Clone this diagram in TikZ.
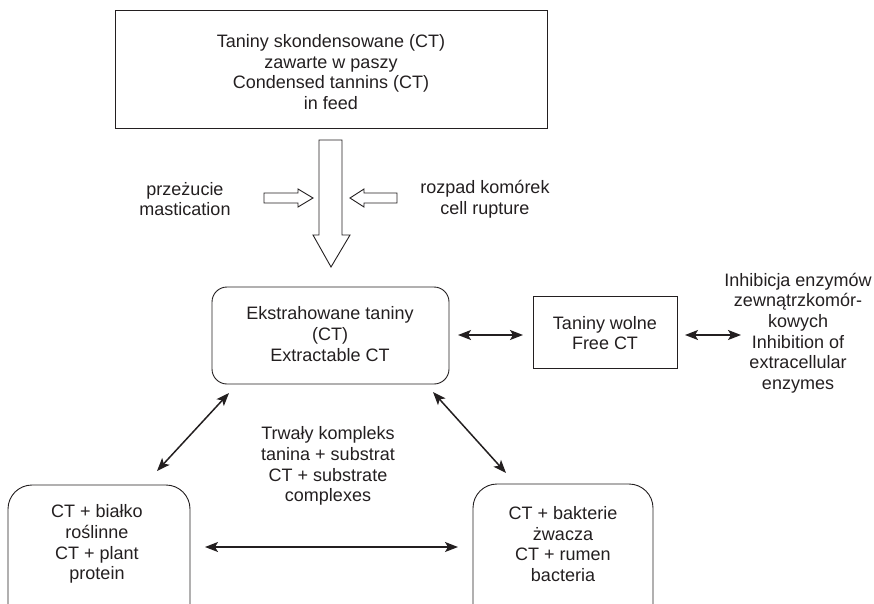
\documentclass[tikz,border=0pt]{standalone}
\usepackage{fontspec}
\setmainfont{Liberation Sans}
\usetikzlibrary{arrows.meta}
\definecolor{ink}{RGB}{35,31,32}
\begin{document}
\begin{tikzpicture}[x=1pt,y=-1pt,
  txt/.style={align=center,font=\fontsize{18}{20.7}\selectfont,inner sep=0pt,text=ink},
  rbox/.style={draw=ink,line width=0.9pt},
  sbox/.style={draw=ink,line width=0.9pt},
  link/.style={draw=ink,line width=1.5pt,{Stealth[length=13pt,width=10pt,inset=3pt]}-{Stealth[length=13pt,width=10pt,inset=3pt]}},
  blk/.style={draw=ink,line width=0.9pt,fill=white}]
\useasboundingbox (0,0) rectangle (874,603);
\begin{scope}
\clip (0,0) rectangle (874,603);
% top box
\draw[sbox] (115,10) rectangle (547,128);
\node[txt] (top) at (331,72) {Taniny skondensowane (CT)\\zawarte w paszy\\Condensed tannins (CT)\\in feed};
% big down arrow
\draw[blk] (319,140) -- (342,140) -- (342,235) -- (350,235) -- (331,267) -- (313,235) -- (319,235) -- cycle;
% left small arrow
\draw[blk] (264,193) -- (298,193) -- (298,189) -- (313,198) -- (298,207) -- (298,203) -- (264,203) -- cycle;
% right small arrow
\draw[blk] (397,193) -- (364,193) -- (364,189) -- (350,198) -- (364,207) -- (364,203) -- (397,203) -- cycle;
\node[txt] (mast) at (185,199) {przeżucie\\mastication};
\node[txt] (rupt) at (485,199) {rozpad komórek\\cell rupture};
% extractable
\draw[rbox,rounded corners=15pt] (212,287) rectangle (449,384);
\node[txt] (ext) at (330,334) {Ekstrahowane taniny\\(CT)\\Extractable CT};
\coordinate (extL) at (229,393);
\coordinate (extR) at (433,392);
\coordinate (extE) at (458,335);
% free CT
\draw[sbox] (533,296) rectangle (677,368);
\node[txt] (free) at (605,333) {Taniny wolne\\Free CT};
\coordinate (freeW) at (523,335);
\coordinate (freeE) at (685,335);
\coordinate (inhW) at (741,335);
\node[txt] (inh) at (798,333) {Inhibicja enzymów\\zewnątrzkomór-\\kowych\\Inhibition of\\extracellular\\enzymes};
% bottom boxes
\draw[rbox,rounded corners=24pt] (8,485) rectangle (190,650);
\node[txt] (plant) at (97,544) {CT + białko\\roślinne\\CT + plant\\protein};
\draw[rbox,rounded corners=24pt] (473,484) rectangle (653,650);
\node[txt] (bact) at (563,544) {CT + bakterie\\żwacza\\CT + rumen\\bacteria};
\coordinate (plE) at (205,547);
\coordinate (baW) at (458,547);
\coordinate (plN) at (157,471);
\coordinate (baN) at (506,473);
\node[txt] (cplx) at (328,466) {Trwały kompleks\\tanina + substrat\\CT + substrate\\complexes};
% links
\draw[link] (extE) -- (freeW);
\draw[link] (freeE) -- (inhW);
\draw[link] (extL) -- (plN);
\draw[link] (extR) -- (baN);
\draw[link] (plE) -- (baW);
\end{scope}
\end{tikzpicture}
\end{document}
